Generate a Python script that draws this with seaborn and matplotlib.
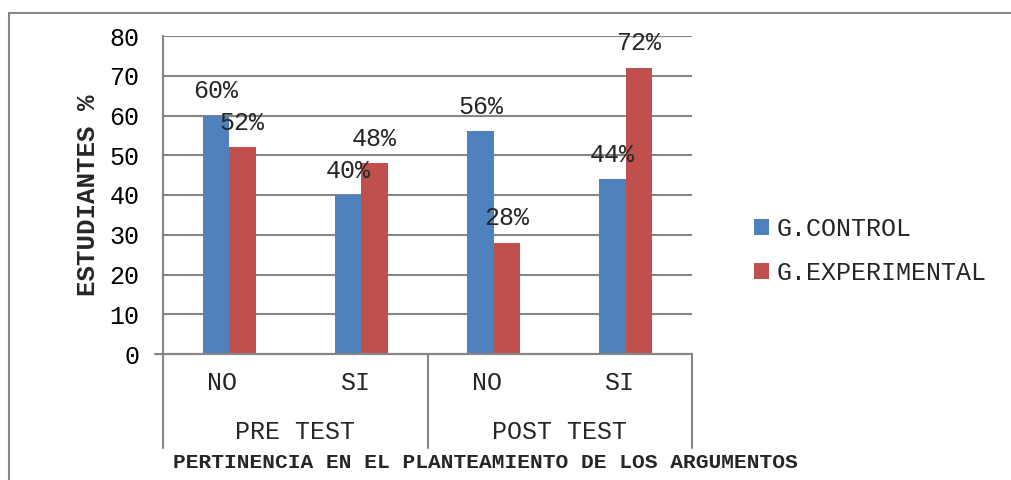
import pandas as pd
import numpy as np
import seaborn as sns
import matplotlib.pyplot as plt
from matplotlib.lines import Line2D

tests = ['PRE TEST', 'PRE TEST', 'POST TEST', 'POST TEST']
answers = ['NO', 'SI', 'NO', 'SI']
control = [60, 40, 56, 44]
experimental = [52, 48, 28, 72]
groups = ['G.CONTROL', 'G.EXPERIMENTAL']

keys = [t + '|' + a for t, a in zip(tests, answers)]
data = pd.DataFrame({
    'cat': keys * 2,
    'grupo': [groups[0]] * 4 + [groups[1]] * 4,
    'valor': control + experimental,
})

sns.set_style('white')
plt.rcParams['font.family'] = ['Liberation Mono', 'DejaVu Sans Mono']

fig = plt.figure(figsize=(10.11, 4.8), dpi=100)
ax = fig.add_axes([0.1612, 0.2625, 0.5233, 0.6625])

sns.barplot(data=data, x='cat', y='valor', hue='grupo', order=keys,
            palette=['#4F81BD', '#C0504D'], width=0.4, saturation=1,
            edgecolor='none', ax=ax)

ax.set_ylim(0, 80)
ax.set_xlim(-0.5, 3.5)
ax.set_yticks(range(0, 81, 10))
ax.tick_params(axis='y', labelsize=18, colors='#000000', length=8,
               color='#868686', width=1.5, pad=9)
ax.tick_params(axis='x', length=0)
ax.set_xticks([])
ax.yaxis.grid(True, color='#868686', linewidth=1.5)
ax.set_axisbelow(True)
for s in ['top', 'right']:
    ax.spines[s].set_visible(False)
ax.spines['left'].set_color('#868686')
ax.spines['left'].set_linewidth(1.5)
ax.spines['bottom'].set_color('#868686')
ax.spines['bottom'].set_linewidth(1.5)

# data labels
for cont in ax.containers:
    labels = [f'{int(round(b.get_height()))}%' for b in cont]
    ax.bar_label(cont, labels=labels, padding=9, fontsize=18)

# category axis (two levels)
tr = ax.get_xaxis_transform()
for i, a in enumerate(answers):
    ax.text(i - 0.05, -0.09, a, transform=tr, ha='center', va='center', fontsize=18)
for i, t in enumerate(['PRE TEST', 'POST TEST']):
    ax.text(2 * i + 0.5, -0.245, t, transform=tr, ha='center', va='center', fontsize=18)
for xv in [-0.5, 1.5, 3.5]:
    ax.add_line(Line2D([xv, xv], [0, -0.295], transform=tr, color='#868686',
                       linewidth=1.5, clip_on=False))
ax.add_line(Line2D([-0.56, 3.5], [0, 0], transform=tr, color='#868686',
                   linewidth=1.5, clip_on=False))

ax.set_xlabel('')
ax.set_ylabel('')
fig.text(485 / 1011, 1 - 462 / 480, 'PERTINENCIA EN EL PLANTEAMIENTO DE LOS ARGUMENTOS',
         ha='center', va='center', fontsize=15.3, fontweight='bold')
fig.text(88 / 1011, 1 - 195 / 480, 'ESTUDIANTES %', rotation=90,
         ha='center', va='center', fontsize=18.5, fontweight='bold')

ax.legend(loc='center left', bbox_to_anchor=(1.075, 0.325), frameon=False,
          fontsize=18, handlelength=0.6, handleheight=0.6, handletextpad=0.3,
          labelspacing=0.8)

# outer frame
fig.add_artist(Line2D([9 / 1011, 1.0], [1 - 13 / 480] * 2, color='#868686', linewidth=1.5))
fig.add_artist(Line2D([9 / 1011] * 2, [0, 1 - 13 / 480], color='#868686', linewidth=1.5))

fig.savefig('out.png', dpi=100)
